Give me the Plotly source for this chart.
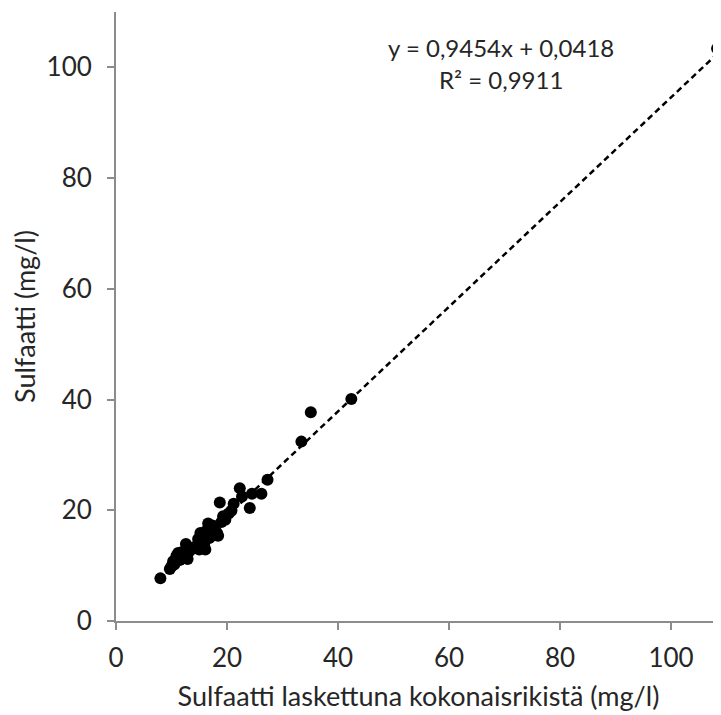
import plotly.graph_objects as go

# Calculated sulfate from total sulphur (mg/l)
x_calc = [8.0, 9.7, 10.0, 10.3, 10.5, 10.9, 11.2, 11.5, 11.8, 12.2, 12.6, 12.9,
          13.2, 13.6, 14.0, 14.4, 14.8, 15.0, 15.2, 15.4, 15.6, 15.9, 16.1, 16.3,
          16.6, 16.8, 17.0, 17.2, 17.5, 17.8, 18.2, 18.4, 18.7, 19.0, 19.3, 19.7,
          20.3, 20.8, 21.2, 22.3, 22.7, 24.1, 24.5, 26.2, 27.3, 33.4, 35.1, 42.4,
          108.3]
# Measured sulfate (mg/l)
y_meas = [7.7, 9.4, 9.9, 10.8, 10.2, 11.8, 12.3, 11.0, 12.4, 11.6, 13.9, 11.2,
          12.6, 13.0, 13.2, 13.5, 14.8, 12.9, 15.9, 14.2, 15.2, 14.0, 12.9, 16.3,
          17.6, 15.0, 16.5, 15.3, 17.2, 16.7, 15.9, 15.4, 21.4, 17.9, 18.9, 18.3,
          19.4, 19.9, 21.2, 24.0, 22.5, 20.4, 23.0, 23.0, 25.5, 32.4, 37.7, 40.1,
          103.4]

slope = 0.9454
intercept = 0.0418
r2 = 0.9911

x_ticks = [0, 20, 40, 60, 80, 100]
y_ticks = [0, 20, 40, 60, 80, 100]

FONT = "Lato, 'Open Sans', sans-serif"
TXT = "#262626"
AX = "#8c8c8c"

def fi(v):
    return f"{v:.4f}".replace(".", ",")

xmin, xmax = min(x_calc), max(x_calc)
trend_x = [xmin, xmax]
trend_y = [slope * v + intercept for v in trend_x]

fig = go.Figure()
fig.add_trace(go.Scatter(
    x=x_calc, y=y_meas, mode="markers",
    marker=dict(color="black", size=12, line=dict(width=0)),
    showlegend=False, cliponaxis=False, hoverinfo="skip"))
fig.add_trace(go.Scatter(
    x=trend_x, y=trend_y, mode="lines",
    line=dict(color="black", width=2.5, dash="6px,4px"),
    showlegend=False, cliponaxis=False, hoverinfo="skip"))

fig.add_annotation(x=69.3, y=103.6, xref="x", yref="y",
                   text=f"y = {fi(slope)}x + {fi(intercept)}",
                   showarrow=False, font=dict(family=FONT, size=24, color=TXT))
fig.add_annotation(x=69.3, y=97.8, xref="x", yref="y",
                   text="R² = " + fi(r2),
                   showarrow=False, font=dict(family=FONT, size=24, color=TXT))

# page body has an 8px default margin: offset sizes accordingly
fig.update_layout(
    width=713, height=707,
    margin=dict(l=108, r=0, t=4, b=94, autoexpand=False),
    paper_bgcolor="white", plot_bgcolor="white",
    font=dict(family=FONT, size=26, color=TXT),
    xaxis=dict(range=[0, 109], tickvals=x_ticks, showgrid=False, zeroline=False,
               showline=True, linecolor=AX, linewidth=2,
               ticks="outside", ticklen=7, tickcolor=AX, tickwidth=2,
               ticklabelstandoff=6,
               tickfont=dict(family=FONT, size=26, color=TXT),
               title=dict(text="Sulfaatti laskettuna kokonaisrikistä (mg/l)",
                          font=dict(family=FONT, size=27, color=TXT), standoff=15)),
    yaxis=dict(range=[0, 110], tickvals=y_ticks, showgrid=False, zeroline=False,
               showline=True, linecolor=AX, linewidth=2,
               ticks="outside", ticklen=7, tickcolor=AX, tickwidth=2,
               ticklabelstandoff=10,
               tickfont=dict(family=FONT, size=26, color=TXT),
               title=dict(text="Sulfaatti (mg/l)",
                          font=dict(family=FONT, size=27, color=TXT), standoff=10)),
)

fig.write_html("out.html")
